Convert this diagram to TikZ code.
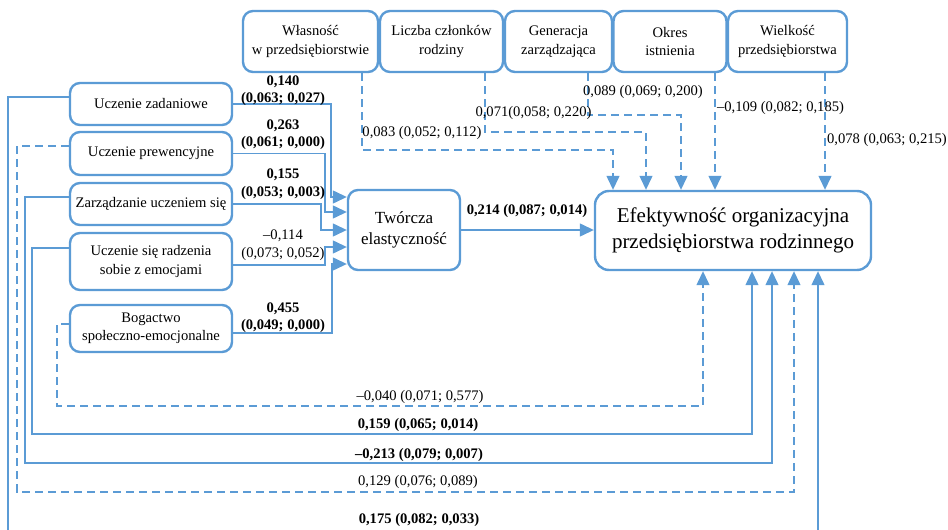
\documentclass[tikz,border=0pt]{standalone}
\usepackage{fontspec}
\setmainfont{Liberation Serif}
\usetikzlibrary{arrows.meta}
\definecolor{boxblue}{HTML}{5B9BD5}
\definecolor{lineblue}{HTML}{5B9BD5}

\begin{document}
\begin{tikzpicture}[x=1pt,y=-1pt,
  box/.style={draw=boxblue, line width=2.4pt, rounded corners=10pt, fill=white,
    align=center, inner sep=0pt, font=\fontsize{14.6}{18.5}\selectfont},
  conn/.style={draw=lineblue, line width=1.3pt},
  dsh/.style={dash pattern=on 8pt off 5pt},
  arr/.style={-{Triangle[length=14pt,width=13pt,fill=lineblue]}},
  lab/.style={inner sep=0pt, align=center, font=\fontsize{14.6}{17.5}\selectfont},
  blab/.style={lab, font=\fontsize{14.6}{17.5}\selectfont\bfseries}]

\useasboundingbox (0,0) rectangle (948,530);

% control variables (top row)
\node[box, minimum width=135pt, minimum height=61pt] (own)  at (310.5,41.5) {Własność\\w przedsiębiorstwie};
\node[box, minimum width=123pt, minimum height=61pt] (fam)  at (441.5,41.5) {Liczba członków\\rodziny};
\node[box, minimum width=107pt, minimum height=61pt] (gen)  at (558.5,41.5) {Generacja\\zarządzająca};
\node[box, minimum width=113pt, minimum height=61pt] (age)  at (670,41.5)   {Okres\\istnienia};
\node[box, minimum width=119pt, minimum height=61pt] (size) at (787.5,41.5) {Wielkość\\przedsiębiorstwa};

% predictors (left column)
\node[box, minimum width=162pt, minimum height=42pt] (tl)  at (151,104)   {Uczenie zadaniowe};
\node[box, minimum width=162pt, minimum height=43pt] (pl)  at (151,153.5) {Uczenie prewencyjne};
\node[box, minimum width=162pt, minimum height=42pt] (zl)  at (151,204)   {Zarządzanie uczeniem się};
\node[box, minimum width=162pt, minimum height=57pt] (el)  at (151,261.5) {Uczenie się radzenia\\sobie z emocjami};
\node[box, minimum width=162pt, minimum height=47pt] (bog) at (151,328.5) {Bogactwo\\społeczno-emocjonalne};

% mediator and outcome
\node[box, minimum width=112pt, minimum height=80pt, font=\fontsize{17}{20.5}\selectfont] (tw) at (404,230) {Twórcza\\elastyczność};
\node[box, minimum width=276pt, minimum height=79pt, rounded corners=14pt,
      font=\fontsize{21}{26}\selectfont] (tgt) at (733,230.5) {Efektywność organizacyjna\\przedsiębiorstwa rodzinnego};

% predictors -> mediator
\draw[conn, arr] (tl.east) -| (331,197) -- (tw.west |- 0,197);
\draw[conn, arr] (pl.east) -| (325,212) -- (tw.west |- 0,212);
\draw[conn, arr] (zl.east) -| (321,230) -- (tw.west |- 0,230);
\draw[conn, arr] ([yshift=-3.5pt]el.east) -| (325,247) -- (tw.west |- 0,247);
\draw[conn, arr] ([yshift=-4.5pt]bog.east) -| (332,264) -- (tw.west |- 0,264);

\node[blab] (l1) at (283,90.5)  {0,140\\(0,063; 0,027)};
\node[blab] (l2) at (283,134.5) {0,263\\(0,061; 0,000)};
\node[blab] (l3) at (283,184)   {0,155\\(0,053; 0,003)};
\node[lab]  (l4) at (283,245)   {–0,114\\(0,073; 0,052)};
\node[blab] (l5) at (283,317.5) {0,455\\(0,049; 0,000)};

% mediator -> outcome
\draw[conn, arr] (tw.east) -- (tgt.west |- tw.east);
\node[blab] (lm) at (527,211) {0,214 (0,087; 0,014)};

% controls -> outcome
\draw[conn, dsh, arr] (own.south -| 362,0) |- (613,150) -- (tgt.north -| 613,0);
\draw[conn, dsh, arr] (fam.south -| 485,0) |- (646,132) -- (tgt.north -| 646,0);
\draw[conn, dsh, arr] (gen.south -| 588,0) |- (681,115) -- (tgt.north -| 681,0);
\draw[conn, dsh, arr] (age.south -| 715,0) -- (tgt.north -| 715,0);
\draw[conn, dsh, arr] (size.south -| 825,0) -- (tgt.north -| 825,0);

\node[lab] (c1) at (422,133)   {0,083 (0,052; 0,112)};
\node[lab] (c2) at (533.5,113) {0,071(0,058; 0,220)};
\node[lab] (c3) at (643,92)    {0,089 (0,069; 0,200)};
\node[lab] (c4) at (780.5,108) {–0,109 (0,082; 0,185)};
\node[lab] (c5) at (887,140)   {0,078 (0,063; 0,215)};

% direct effects predictors -> outcome
\begin{scope}
\clip (0,0) rectangle (948,530);
\draw[conn, arr] ([yshift=7pt]tl.west) -| (8,550) -| (tgt.south -| 818,0);
\end{scope}
\draw[conn, dsh, arr] ([yshift=7.5pt]pl.west) -| (17,492) -| (tgt.south -| 794,0);
\draw[conn, arr] ([yshift=7pt]zl.west) -| (25,463) -| (tgt.south -| 772,0);
\draw[conn, arr] ([yshift=13.5pt]el.west) -| (32,434) -| (tgt.south -| 752,0);
\draw[conn, dsh, arr] ([yshift=4.5pt]bog.west) -| (57,406) -| (tgt.south -| 703,0);

\node[lab]  (d5) at (420,397) {–0,040 (0,071; 0,577)};
\node[blab] (d4) at (418,425) {0,159 (0,065; 0,014)};
\node[blab] (d3) at (419,455) {–0,213 (0,079; 0,007)};
\node[lab]  (d2) at (418,482) {0,129 (0,076; 0,089)};
\node[blab] (d1) at (419,520) {0,175 (0,082; 0,033)};

\end{tikzpicture}
\end{document}
